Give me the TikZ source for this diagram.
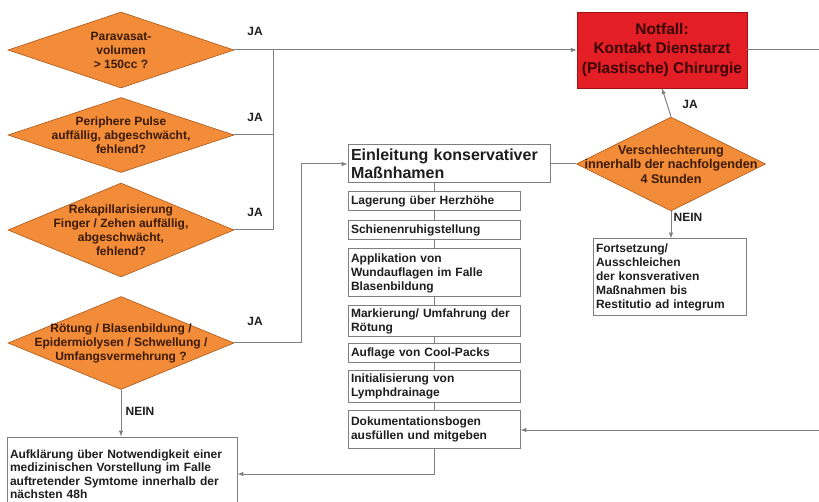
\documentclass[tikz,border=0pt]{standalone}
\usepackage{fontspec}
\setmainfont{Liberation Sans}
\usetikzlibrary{shapes.geometric}
\definecolor{orangefill}{HTML}{F28C38}
\definecolor{orangeedge}{HTML}{A8581A}
\definecolor{orangetext}{HTML}{3B1A05}
\definecolor{notred}{HTML}{E31E24}
\definecolor{rededge}{HTML}{9A1414}
\definecolor{redtext}{HTML}{3A0505}
\definecolor{linegray}{HTML}{7F7F7F}
\definecolor{textdark}{HTML}{1E1E1E}
\begin{document}
\begin{tikzpicture}[x=1pt, y=-1pt, >=latex]
        \tikzset{
  decision/.style={
    diamond,
    draw=orangeedge,
    fill=orangefill,
    line width=.6pt,
    inner sep=0pt,
    minimum width=226pt
  },
  dtext/.style={
    text=orangetext,
    align=center,
    font=\bfseries\fontsize{12}{14}\selectfont
  },
  stepbox/.style={
    rectangle,
    draw=linegray,
    line width=1pt,
    fill=white,
    align=left,
    inner sep=3pt,
    text=textdark,
    font=\bfseries\fontsize{12}{14}\selectfont
  },
  chainbox/.style={
    stepbox,
    text width=166pt
  },
  lbl/.style={
    text=textdark,
    font=\bfseries\fontsize{12}{13}\selectfont
  },
  conn/.style={
    draw=linegray,
    line width=1pt
  }
}
\useasboundingbox (0,0) rectangle (819,502);

% questions on the left
\node [decision, minimum height=76pt, label={[dtext]center:{Paravasat-\\volumen\\> 150cc ?}}] (para) at (121,50) {};
\node [decision, minimum height=75pt, label={[dtext]center:{Periphere Pulse\\auffällig, abgeschwächt,\\fehlend?}}] (pulse) at (121,135) {};
\node [decision, minimum height=94pt, label={[dtext]center:{Rekapillarisierung\\Finger / Zehen auffällig,\\abgeschwächt,\\fehlend?}}] (rekap) at (121,230) {};
\node [decision, minimum height=93pt, label={[dtext]center:{Rötung / Blasenbildung /\\Epidermiolysen / Schwellung /\\Umfangsvermehrung ?}}] (roet) at (121,343) {};

\node [rectangle, draw=rededge, fill=notred, line width=.6pt, minimum width=170pt, minimum height=76pt,
  align=center, text=redtext, font=\bfseries\fontsize{15.5}{19.5}\selectfont] (notfall) at (662,50)
  {Notfall:\\Kontakt Dienstarzt\\(Plastische) Chirurgie};

\node [stepbox, text width=196pt, minimum height=38pt, font=\bfseries\fontsize{16}{18}\selectfont] (einl) at (449,164)
  {Einleitung konservativer\\Maßnhamen};

\node [decision, minimum width=189pt, minimum height=94pt,
  label={[dtext, font=\bfseries\fontsize{12.6}{14.5}\selectfont]center:{Verschlechterung\\innerhalb der nachfolgenden\\4 Stunden}}] (versch) at (671,164) {};

\node [stepbox, text width=147pt, minimum height=77pt] (fort) at (669.5,277.5)
  {Fortsetzung/\\Ausschleichen\\der konsverativen\\Maßnahmen bis\\Restitutio ad integrum};

% conservative measures
\node [chainbox, minimum height=19pt] (lager) at (434,201.5) {Lagerung über Herzhöhe};
\node [chainbox, minimum height=19pt] (schiene) at (434,230.5) {Schienenruhigstellung};
\node [chainbox, minimum height=48pt] (appl) at (434,273) {Applikation von\\Wundauflagen im Falle\\Blasenbildung};
\node [chainbox, minimum height=28pt] (mark) at (434,321) {Markierung/ Umfahrung der\\Rötung};
\node [chainbox, minimum height=19pt] (cool) at (434,353.5) {Auflage von Cool-Packs};
\node [chainbox, minimum height=29pt] (init) at (434,386.5) {Initialisierung von\\Lymphdrainage};
\node [chainbox, minimum height=38pt] (doku) at (434,429) {Dokumentationsbogen\\ausfüllen und mitgeben};

\node [stepbox, text width=224pt, minimum height=74pt, font=\bfseries\fontsize{12}{13.5}\selectfont] (aufkl) at (122,474)
  {Aufklärung über Notwendigkeit einer\\medizinischen Vorstellung im Falle\\auftretender Symtome innerhalb der\\nächsten 48h};

\coordinate (join) at (273,50);
\coordinate (rimtop) at (819,50);
\coordinate (rimbot) at (819,430);

% connectors
\draw [conn, ->] (para) -- (notfall);
\draw [conn] (pulse.east) -| (join);
\draw [conn] (rekap.east) -| (join);
\draw [conn, ->] (roet.east) -- ++(67,0) |- (einl.west);
\draw [conn, ->] (roet.south) -- (roet.south |- aufkl.north);
\draw [conn] (notfall.east) -- (rimtop);
\draw [conn] (einl.east) -- (versch.west);
\draw [conn, ->] (versch.north) -- (notfall.south);
\draw [conn, ->] (versch.south) -- (versch.south |- fort.north);
\draw [conn] (lager.north |- einl.south) -- (lager.north);

\foreach \a/\b in {lager/schiene, schiene/appl, appl/mark, mark/cool, cool/init, init/doku}
  \draw [conn] (\a) -- (\b);

\draw [conn, ->] (rimbot) -- (doku.east |- rimbot);
\draw [conn, ->] (doku.south) |- (aufkl.east);

\node [lbl] (ja1) at (255,31) {JA};
\node [lbl] (ja2) at (255,117) {JA};
\node [lbl] (ja3) at (255,212) {JA};
\node [lbl] (ja4) at (255,321) {JA};
\node [lbl] (ja5) at (690,104) {JA};
\node [lbl] (nein1) at (140,411) {NEIN};
\node [lbl] (nein2) at (688,217) {NEIN};
      \end{tikzpicture}
\end{document}
